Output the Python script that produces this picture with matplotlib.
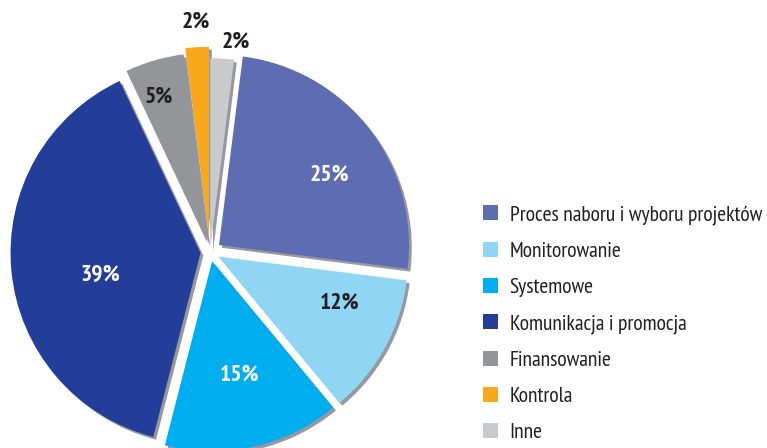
import matplotlib
matplotlib.use('agg')

import numpy as np
import matplotlib.pyplot as plt
import matplotlib.patheffects as pe
from matplotlib.patches import Patch

# Data (legend order)
categories = ['Proces naboru i wyboru projektów', 'Monitorowanie', 'Systemowe',
              'Komunikacja i promocja', 'Finansowanie', 'Kontrola', 'Inne']
shares = [25, 12, 15, 39, 5, 2, 2]

# Styling
colors = ['#5e6cb2', '#8fd6f5', '#00adee', '#223e98', '#939598', '#f7a81b', '#c9cacc']
explode = [0.06, 0.05, 0.05, 0.05, 0.05, 0.08, 0.02]
# label placement: radial distance and angular nudge (deg) from slice middle
label_r = [0.75, 0.735, 0.667, 0.59, 0.857, 1.21, 1.114]
label_nudge = [-5, 7.5, 1, 6.5, 2, 0, -3.5]
label_color = ['white', '#231f20', 'white', 'white', '#231f20', '#231f20', '#231f20']
font = ['PT Sans Narrow', 'Roboto Condensed', 'DejaVu Sans']

fig = plt.figure(figsize=(7.67, 4.48), dpi=100)
ax = fig.add_axes([0, 0, 1, 1])

wedges, _ = ax.pie(shares, colors=colors, explode=explode, startangle=90 - 360 * shares[-1] / 100,
                   counterclock=False, radius=1.0,
                   wedgeprops=dict(linewidth=0))

for w in wedges:
    w.set_path_effects([pe.SimplePatchShadow(offset=(2, -2), shadow_rgbFace='#1a1a2e', alpha=0.45),
                        pe.Normal()])

# percentage labels
for w, s, r, nd, c in zip(wedges, shares, label_r, label_nudge, label_color):
    ang = np.deg2rad((w.theta1 + w.theta2) / 2 + nd)
    ax.text(r * np.cos(ang), r * np.sin(ang), f'{s}%', ha='center', va='center',
            color=c, fontsize=17, fontweight='bold', family=font)

# centre at (210, 252) px, radius 190 px
R = 190.0
ax.set_xlim(-210 / R, (767 - 210) / R)
ax.set_ylim(-(448 - 252) / R, 252 / R)
ax.set_aspect('auto')
ax.axis('off')

handles = [Patch(facecolor=c, edgecolor='none') for c in colors]
leg = fig.legend(handles, categories, loc='upper left', bbox_to_anchor=(0.604, 0.585),
                 frameon=False, handlelength=0.7, handleheight=0.7, handletextpad=0.55,
                 labelspacing=0.79, prop={'family': font, 'size': 15.5})
for t in leg.get_texts():
    t.set_color('#231f20')

fig.savefig('out.png', dpi=100)
